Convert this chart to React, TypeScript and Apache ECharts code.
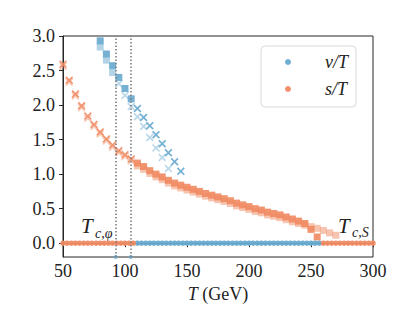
import React, { useEffect, useRef } from "react";
import * as echarts from "echarts";

// ---------- data ----------
// s/T, symmetric-phase branch (crosses)
const T_S_X = [50, 55, 60, 65, 70, 75, 80, 85, 90, 95, 100, 105];
const S_X_DARK = [2.59, 2.36, 2.16, 1.99, 1.84, 1.72, 1.61, 1.51, 1.42, 1.34, 1.28, 1.22];
const S_X_LIGHT = [2.56, 2.33, 2.13, 1.96, 1.81, 1.69, 1.58, 1.48, 1.39, 1.31, 1.25, 1.19];
// s/T squares
const T_S_SQ_DARK = [110, 115, 120, 125, 130, 135, 140, 145, 150, 155, 160, 165, 170, 175, 180, 185, 190, 195, 200, 205, 210, 215, 220, 225, 230, 235, 240, 245, 250, 255];
const S_SQ_DARK = [1.16, 1.11, 1.05, 1.0, 0.96, 0.91, 0.87, 0.84, 0.81, 0.78, 0.75, 0.72, 0.695, 0.67, 0.645, 0.615, 0.58, 0.555, 0.53, 0.5, 0.48, 0.45, 0.43, 0.41, 0.38, 0.35, 0.32, 0.285, 0.2, 0.09];
const T_S_SQ_LIGHT = [110, 115, 120, 125, 130, 135, 140, 145, 150, 155, 160, 165, 170, 175, 180, 185, 190, 195, 200, 205, 210, 215, 220, 225, 230, 235, 240, 245, 250, 255, 260, 265, 270];
const S_SQ_LIGHT = [1.12, 1.07, 1.01, 0.96, 0.92, 0.87, 0.83, 0.8, 0.77, 0.74, 0.71, 0.68, 0.655, 0.63, 0.605, 0.575, 0.54, 0.515, 0.49, 0.46, 0.44, 0.41, 0.39, 0.37, 0.34, 0.31, 0.285, 0.26, 0.24, 0.215, 0.185, 0.15, 0.115];
// v/T squares
const T_V_SQ_DARK = [80, 85, 90, 95, 100, 105];
const V_SQ_DARK = [2.93, 2.74, 2.57, 2.4, 2.24, 2.09];
const T_V_SQ_LIGHT = [80, 85, 90];
const V_SQ_LIGHT = [2.84, 2.65, 2.47];
// v/T crosses
const T_V_X_DARK = [110, 115, 120, 125, 130, 135, 140, 145];
const V_X_DARK = [1.95, 1.82, 1.7, 1.57, 1.44, 1.31, 1.18, 1.04];
const T_V_X_LIGHT = [95, 100, 105, 110, 115, 120, 125, 130, 135];
const V_X_LIGHT = [2.31, 2.14, 1.98, 1.83, 1.69, 1.53, 1.38, 1.24, 1.08];
// zero branches
const T_ZERO_V = [110, 113.3, 116.7, 120, 123.3, 126.7, 130, 133.3, 136.7, 140, 143.3, 146.7, 150, 153.3, 156.7, 160, 163.3, 166.7, 170, 173.3, 176.7, 180, 183.3, 186.7, 190, 193.3, 196.7, 200, 203.3, 206.7, 210, 213.3, 216.7, 220, 223.3, 226.7, 230, 233.3, 236.7, 240, 243.3, 246.7, 250, 253.3, 256.7];
const T_ZERO_S = [50, 53.3, 56.7, 60, 63.3, 66.7, 70, 73.3, 76.7, 80, 83.3, 86.7, 90, 93.3, 96.7, 100, 103.3, 106.7, 260, 263.3, 266.7, 270, 273.3, 276.7, 280, 283.3, 286.7, 290, 293.3, 296.7, 300];
// critical temperatures
const T_CRIT = [92.5, 104.6];
const Y_TICKS = [0, 0.5, 1, 1.5, 2, 2.5, 3];

const BLUE = "#67a9cf";
const ORANGE = "#ef8a62";
const FONT = "'Liberation Serif', 'DejaVu Serif', serif";
const CROSS = "path://M0,1.5L1.5,0L5,3.5L8.5,0L10,1.5L6.5,5L10,8.5L8.5,10L5,6.5L1.5,10L0,8.5L3.5,5Z";

const zip = (xs: number[], ys: number[]) => xs.map((x, i) => [x, ys[i]]);
const zeros = (xs: number[]) => xs.map((x) => [x, 0]);

export default function App() {
  const ref = useRef<HTMLDivElement>(null);
  useEffect(() => {
    document.body.style.margin = "0";
    if (!ref.current) return;
    const chart = echarts.init(ref.current, undefined, { renderer: "svg" });
    const sc = (name: string, data: number[][], symbol: string, size: number, color: string, opacity: number, z: number) => ({
      type: "scatter",
      name,
      data,
      symbol,
      symbolSize: size,
      itemStyle: { color, opacity },
      z,
      silent: true,
    });
    chart.setOption({
      animation: false,
      backgroundColor: "#fff",
      grid: { left: 63, right: 41, top: 36, bottom: 53, show: true, borderColor: "#262626", borderWidth: 1, backgroundColor: "transparent" },
      legend: {
        data: [
          { name: "v/T", icon: "circle" },
          { name: "s/T", icon: "circle" },
        ],
        orient: "vertical",
        left: 261,
        top: 46,
        itemWidth: 6,
        itemHeight: 6,
        itemGap: 9,
        padding: [7, 8, 9, 24],
        borderColor: "#d9d9d9",
        borderWidth: 1,
        borderRadius: 4,
        backgroundColor: "rgba(255,255,255,0.85)",
        formatter: (n: string) => "{g|}{i|" + n + "}",
        textStyle: {
          rich: {
            g: { width: 29 },
            i: { fontFamily: FONT, fontStyle: "italic", fontSize: 18, color: "#222", lineHeight: 20 },
          },
        },
      },
      xAxis: {
        type: "value",
        min: 50,
        max: 300,
        interval: 50,
        name: "{i|T} (GeV)",
        nameLocation: "middle",
        nameGap: 28,
        nameTextStyle: {
          fontFamily: FONT,
          fontSize: 18,
          color: "#222",
          rich: { i: { fontFamily: FONT, fontStyle: "italic", fontSize: 18, color: "#222" } },
        },
        axisLine: { show: true, lineStyle: { color: "#262626", width: 1 } },
        axisTick: { show: true, length: 4, lineStyle: { color: "#262626" } },
        axisLabel: { fontFamily: FONT, fontSize: 18, color: "#222", margin: 5 },
        splitLine: { show: false },
      },
      yAxis: {
        type: "value",
        min: -0.2,
        max: 3.0,
        axisLine: { show: true, lineStyle: { color: "#262626", width: 1 } },
        axisTick: { show: true, length: 4, customValues: Y_TICKS, lineStyle: { color: "#262626" } },
        axisLabel: {
          fontFamily: FONT,
          fontSize: 18,
          color: "#222",
          margin: 8,
          customValues: Y_TICKS,
          formatter: (v: number) => v.toFixed(1),
        },
        splitLine: { show: false },
      },
      series: [
        sc("sLightX", zip(T_S_X, S_X_LIGHT), CROSS, 8, ORANGE, 0.45, 2),
        sc("sLightSq", zip(T_S_SQ_LIGHT, S_SQ_LIGHT), "rect", 7, ORANGE, 0.5, 2),
        sc("vLightSq", zip(T_V_SQ_LIGHT, V_SQ_LIGHT), "rect", 7, BLUE, 0.5, 2),
        sc("vLightX", zip(T_V_X_LIGHT, V_X_LIGHT), CROSS, 8, BLUE, 0.45, 2),
        sc("sDarkX", zip(T_S_X, S_X_DARK), CROSS, 8, ORANGE, 0.9, 3),
        sc("sDarkSq", zip(T_S_SQ_DARK, S_SQ_DARK), "rect", 7, ORANGE, 0.9, 3),
        sc("vDarkSq", zip(T_V_SQ_DARK, V_SQ_DARK), "rect", 7, BLUE, 0.9, 3),
        sc("vDarkX", zip(T_V_X_DARK, V_X_DARK), CROSS, 8, BLUE, 0.9, 3),
        sc("v/T", zeros(T_ZERO_V), "circle", 5.5, BLUE, 0.95, 4),
        sc("s/T", zeros(T_ZERO_S), "circle", 5.5, ORANGE, 0.95, 4),
        {
          type: "scatter",
          name: "crit",
          data: T_CRIT.map((t) => [t, -0.2]),
          symbol: "circle",
          symbolSize: 4,
          itemStyle: { color: BLUE, opacity: 0.8 },
          clip: false,
          z: 1,
          silent: true,
          markLine: {
            silent: true,
            symbol: ["none", "none"],
            label: { show: false },
            lineStyle: { color: "#777", type: [1.5, 2], width: 1.5 },
            data: T_CRIT.map((t) => ({ xAxis: t })),
          },
        },
      ],
      graphic: [
        { type: "text", x: 81, y: 226, style: { text: "T", font: "italic 21px 'Liberation Serif', serif", fill: "#222", verticalAlign: "middle" } },
        { type: "text", x: 95, y: 233, style: { text: "c,φ", font: "italic 14px 'Liberation Serif', serif", fill: "#222", verticalAlign: "middle" } },
        { type: "text", x: 338, y: 226, style: { text: "T", font: "italic 21px 'Liberation Serif', serif", fill: "#222", verticalAlign: "middle" } },
        { type: "text", x: 352, y: 232, style: { text: "c,S", font: "italic 14px 'Liberation Serif', serif", fill: "#222", verticalAlign: "middle" } },
      ],
    });
    return () => chart.dispose();
  }, []);
  return <div ref={ref} style={{ width: 414, height: 310 }} />;
}
